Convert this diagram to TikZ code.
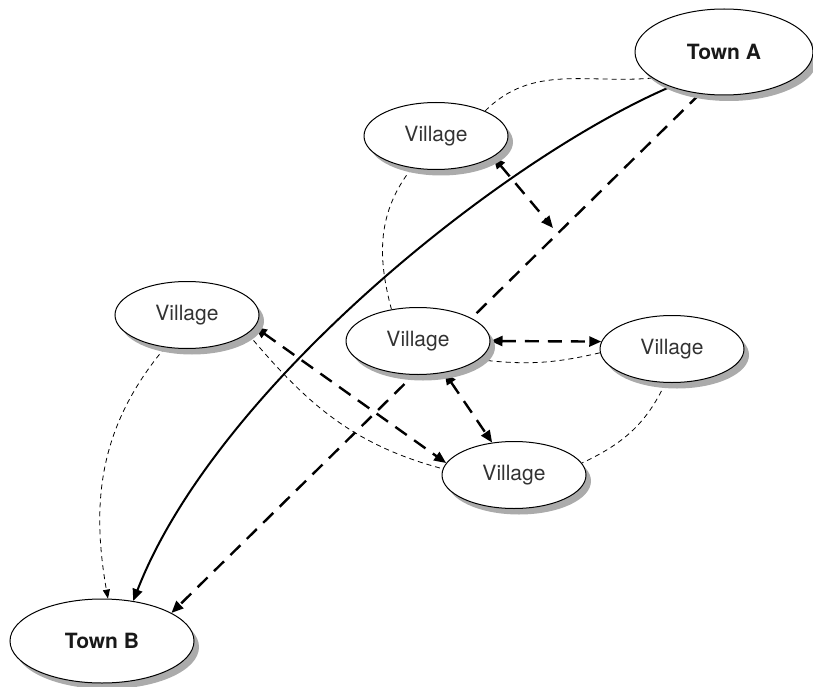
\documentclass[tikz,border=0pt]{standalone}
\usepackage{fontspec}
\setmainfont{TeX Gyre Heros}
\usetikzlibrary{arrows.meta,shapes.geometric,shadows,backgrounds}
\begin{document}
\begin{tikzpicture}[x=1pt,y=1pt,
  place/.style={ellipse, draw=black, line width=1pt, fill=white, inner sep=0pt,
    drop shadow={shadow xshift=5pt, shadow yshift=-6pt, fill=black!33, opacity=1}},
  village/.style={place, minimum width=144pt, minimum height=67pt,
    font=\fontsize{21}{25}\selectfont, text=black!80},
  town/.style={place, font=\fontsize{21}{25}\selectfont\bfseries, text=black!90},
  road/.style={line width=2pt},
  route/.style={line width=2.4pt, dash pattern=on 14pt off 9pt},
  track/.style={line width=0.8pt, dash pattern=on 5pt off 4pt},
  bighead/.style={-{Triangle[length=12pt,width=10pt]}},
  bothheads/.style={{Triangle[length=12pt,width=10pt]}-{Triangle[length=12pt,width=10pt]}},
  smallhead/.style={-{Triangle[length=9pt,width=7pt]}}
]
\useasboundingbox (0,0) rectangle (813,-687);

\node[town, minimum width=178pt, minimum height=86pt] (ta) at (724,-52) {Town A};
\node[town, minimum width=184pt, minimum height=84pt] (tb) at (102,-641) {Town B};
\node[village] (v1) at (436,-136) {Village};
\node[village] (v2) at (187,-315) {Village};
\node[village] (v3) at (418,-341) {Village};
\node[village] (v4) at (672,-349) {Village};
\node[village] (v5) at (514,-475) {Village};
\coordinate (m1) at (553,-228);

\begin{scope}[on background layer]
\draw[road, bighead] (ta.213) .. controls (500,-160) and (215,-390) .. (tb.52);
\draw[route, bighead] (ta.240) -- (tb.22);
\draw[track] (v1.27) to[out=45,in=185] (ta.200);
\draw[track] (v1.233) to[out=232,in=105] (v3.130);
\draw[route, bothheads] (v1.-20) -- (m1);
\draw[track, smallhead] (v2.236) to[out=230,in=100] (tb.82);
\draw[route, bothheads] (v2.-10) -- (v5.170);
\draw[track] (v2.-17) to[out=-50,in=165] (v5.175);
\draw[route, bothheads] (v3.0) -- (v4.174);
\draw[track] (v3.-17) to[bend right=10] (v4.183);
\draw[route, bothheads] (v3.-50) -- (v5.124);
\draw[track] (v4.259) to[out=245,in=25] (v5.10);
\end{scope}
\end{tikzpicture}
\end{document}
